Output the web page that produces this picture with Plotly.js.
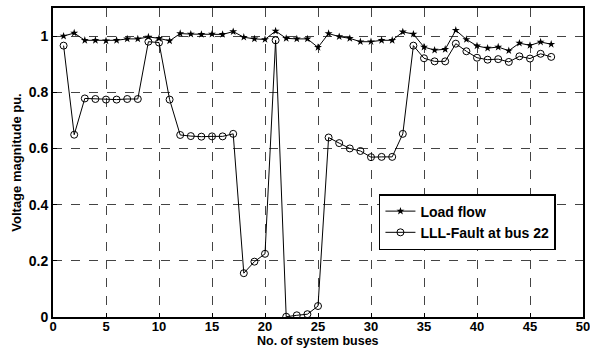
<!DOCTYPE html>
<html>
<head>
<meta charset="utf-8">
<script src="https://cdn.plot.ly/plotly-3.0.1.min.js"></script>
<style>html,body{margin:0;padding:0;background:#fff;}#chart{width:590px;height:349px;}</style>
</head>
<body>
<div id="chart"></div>
<script>
const buses = [];
for (let i = 1; i <= 47; i++) buses.push(i);
const loadFlow = [1.000,1.011,0.985,0.985,0.983,0.985,0.990,0.990,0.997,0.992,
  0.983,1.009,1.007,1.006,1.007,1.006,1.016,0.996,0.990,0.988,
  1.018,0.992,0.990,0.990,0.960,1.009,0.998,0.992,0.980,0.980,
  0.985,0.985,1.015,1.007,0.961,0.950,0.953,1.021,0.988,0.965,
  0.957,0.961,0.948,0.975,0.967,0.979,0.971];
const fault22 = [0.966,0.649,0.778,0.776,0.774,0.774,0.776,0.776,0.980,0.977,
  0.774,0.648,0.644,0.642,0.643,0.643,0.652,0.156,0.197,0.225,
  0.985,0.001,0.006,0.010,0.039,0.639,0.619,0.600,0.591,0.569,
  0.570,0.570,0.652,0.966,0.921,0.910,0.910,0.973,0.946,0.923,
  0.916,0.918,0.908,0.928,0.920,0.937,0.926];
const xTicks = [0,5,10,15,20,25,30,35,40,45,50];
const xTickText = ['0','5','10','15','20','25','30','35','40','45','50'];
const yTicks = [0,0.2,0.4,0.6,0.8,1];
const yTickText = ['0','0.2','0.4','0.6','0.8','1'];
const xTitle = 'No. of system buses';
const yTitle = 'Voltage magnitude pu.';

const fam = 'Liberation Sans, Arial, sans-serif';
const tickFont = {family: fam, size: 14, color: '#000', weight: 700};
const bold = s => '<b>' + s + '</b>';
const traces = [
  {x: buses, y: loadFlow, name: bold('Load flow'), type: 'scatter', mode: 'lines+markers',
   line: {color: '#000', width: 1}, marker: {symbol: 'star', size: 6, color: '#000'}},
  {x: buses, y: fault22, name: bold('LLL-Fault at bus 22'), type: 'scatter', mode: 'lines+markers',
   line: {color: '#000', width: 1}, marker: {symbol: 'circle-open', size: 7, color: '#000', line: {width: 1}}}
];
const axisCommon = {showline: true, mirror: true, linecolor: '#000', linewidth: 2,
  ticks: 'inside', ticklen: 4, tickcolor: '#000', zeroline: false,
  showgrid: true, gridcolor: '#444', griddash: 'dash', gridwidth: 1,
  tickfont: tickFont};
const layout = {
  width: 590, height: 349,
  margin: {l: 53, r: 7, t: 8, b: 32},
  paper_bgcolor: '#fff', plot_bgcolor: '#fff',
  font: {family: fam, size: 13, color: '#000'},
  showlegend: true,
  legend: {x: 0.615, y: 0.398, xanchor: 'left', yanchor: 'top', bgcolor: '#fff',
    bordercolor: '#000', borderwidth: 1.5, font: {family: fam, size: 14, color: '#000', weight: 700},
    tracegroupgap: 0, itemwidth: 30},
  xaxis: Object.assign({}, axisCommon, {range: [0, 50], tickvals: xTicks, ticktext: xTickText.map(bold),
    ticklabelstandoff: -4, ticklabeloverflow: 'allow', tickfont: {family: fam, size: 13, color: '#000', weight: 700}}),
  yaxis: Object.assign({}, axisCommon, {range: [0, 1.1], tickvals: yTicks, ticktext: yTickText.map(bold),
    title: {text: bold(yTitle), font: {family: fam, size: 13, color: '#000', weight: 700}, standoff: 4}}),
  annotations: [{text: bold(xTitle), xref: 'paper', yref: 'paper', x: 0.5, y: -32/309,
    xanchor: 'center', yanchor: 'bottom', showarrow: false, borderpad: 0,
    font: {family: fam, size: 12.5, color: '#000'}}]
};
Plotly.newPlot('chart', traces, layout, {displayModeBar: false, staticPlot: true});
</script>
</body>
</html>
